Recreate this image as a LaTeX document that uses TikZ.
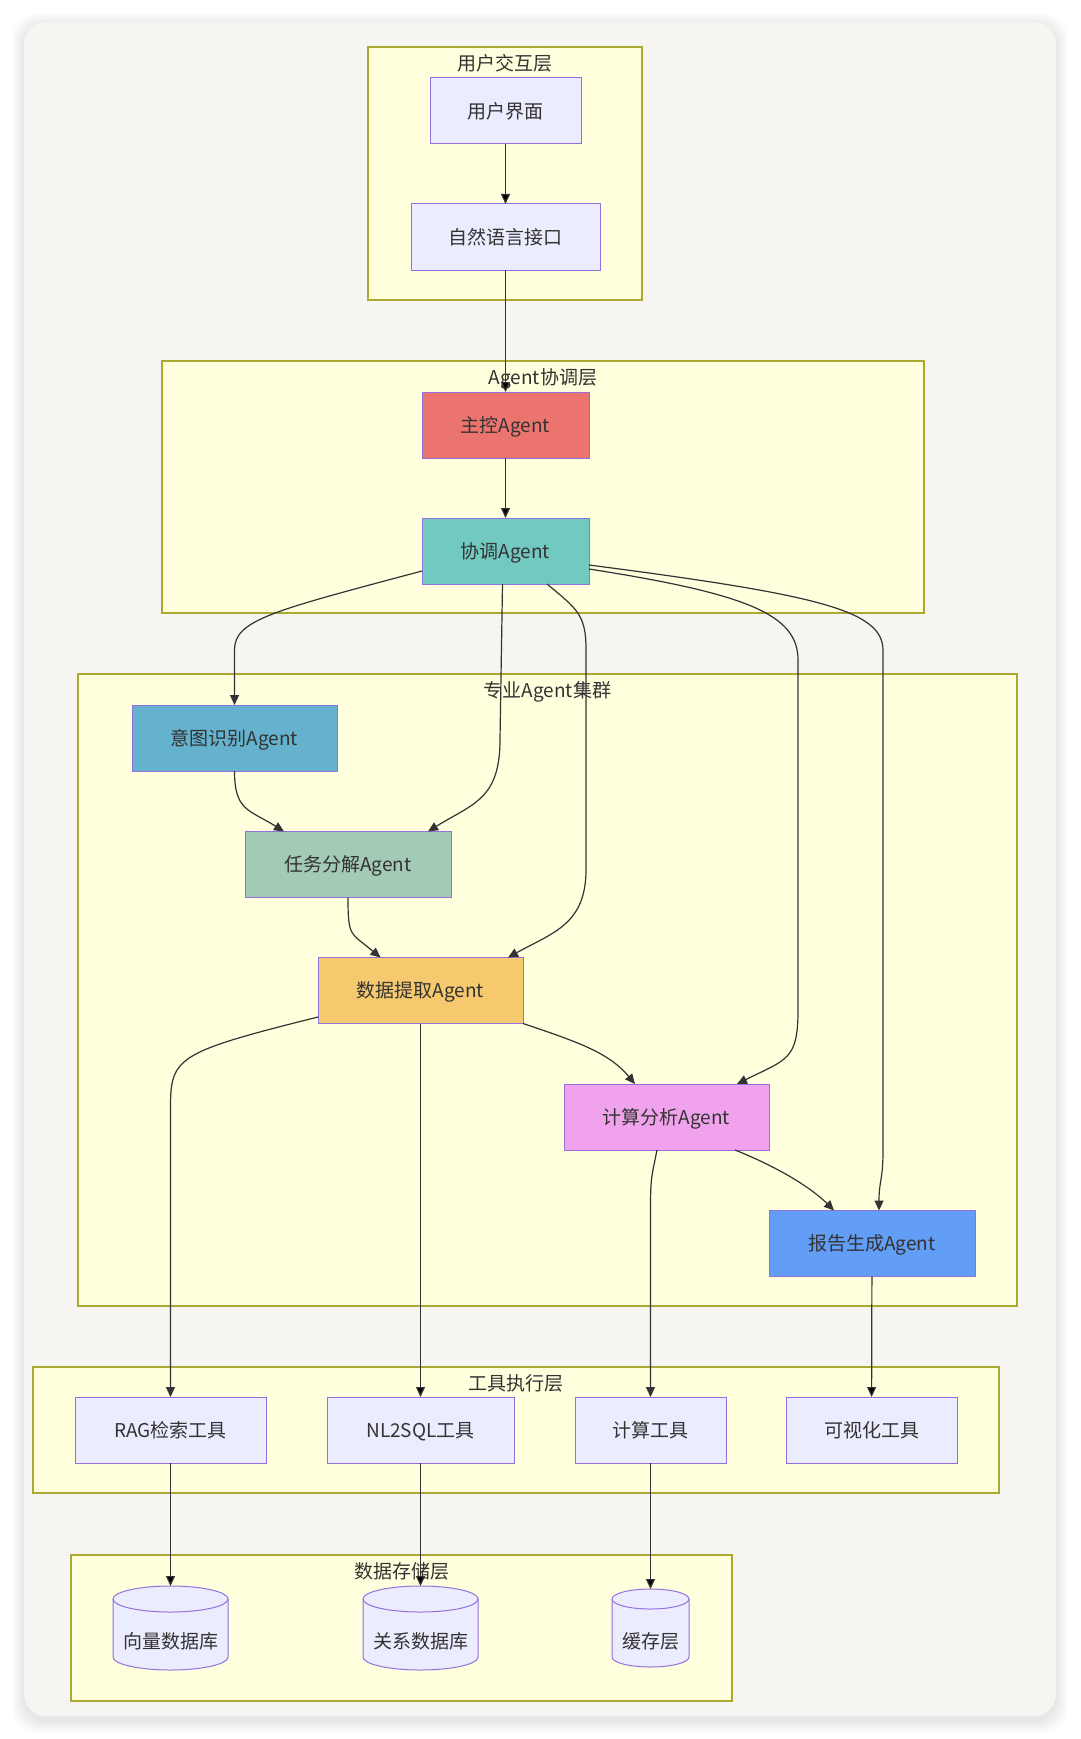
\documentclass[tikz,border=0pt]{standalone}
\usepackage{fontspec}
\setmainfont{Noto Sans CJK SC}
\usepackage{tikz}
\usetikzlibrary{arrows.meta}
\usetikzlibrary{calc}

\definecolor{pagebg}{HTML}{FFFFFF}
\definecolor{cardbg}{HTML}{F6F5F2}
\definecolor{layerfill}{HTML}{FFFFDE}
\definecolor{layerline}{HTML}{AAAA33}
\definecolor{nodefill}{HTML}{ECECFF}
\definecolor{nodeline}{HTML}{9370DB}
\definecolor{textgray}{HTML}{333333}
\definecolor{linegray}{HTML}{333333}
\definecolor{masterred}{HTML}{EC746F}
\definecolor{coordteal}{HTML}{72C9C2}
\definecolor{intentblue}{HTML}{64B2CE}
\definecolor{taskgreen}{HTML}{A2CAB5}
\definecolor{dataorange}{HTML}{F6C96E}
\definecolor{calcpink}{HTML}{F0A3EC}
\definecolor{reportblue}{HTML}{629DF6}

% cylinder outline round a db node: node, half width, end radius
\newcommand{\dbcyl}[3]{%
  \filldraw[draw=nodeline, fill=nodefill, line width=1pt]
    ([yshift=-#3pt]#1.north west) arc[start angle=180, end angle=0, x radius=#2pt, y radius=#3pt]
    -- ([yshift=#3pt]#1.south east) arc[start angle=0, end angle=-180, x radius=#2pt, y radius=#3pt] -- cycle;
  \draw[nodeline, line width=1pt]
    ([yshift=-#3pt]#1.north west) arc[start angle=180, end angle=360, x radius=#2pt, y radius=#3pt];
}

\begin{document}
\begin{tikzpicture}[x=1pt,y=-1pt,>={Triangle[length=10pt,width=9pt]},
    every node/.style={font=\fontsize{19}{23}\selectfont, text=textgray, outer sep=0pt},
    layer/.style={rectangle, draw=layerline, fill=layerfill, line width=1.1pt},
    layer title/.style={text height=17pt, text depth=2.5pt},
    main node/.style={rectangle, draw=nodeline, fill=nodefill, line width=1pt, minimum height=66pt,
                      text height=17pt, text depth=2.5pt},
    db node/.style={rectangle, inner sep=0pt, text height=42pt, text depth=2pt},
    flow/.style={->, draw=linegray, line width=1.2pt}]

  \useasboundingbox (0,0) rectangle (1080,1739);
  \fill[pagebg] (0,0) rectangle (1080,1739);
  % card and its soft shadow
  \foreach \s in {1,...,12}
    \fill[black, opacity=0.008, rounded corners=24pt] (24-\s,25-\s) rectangle (1056+\s,1721+\s);
  \fill[cardbg, rounded corners=22pt] (24,22) rectangle (1056,1716);

  % layers
  \node[layer, minimum width=274pt, minimum height=253pt] (uilayer) at (505,173.5) {};
  \node[layer title] at ([yshift=-16pt]uilayer.north) {用户交互层};
  \node[layer, minimum width=762pt, minimum height=252pt] (agentlayer) at (543,487) {};
  \node[layer title] at ([yshift=-16pt]agentlayer.north) {Agent协调层};
  \node[layer, minimum width=939pt, minimum height=632pt] (speclayer) at (547.5,990) {};
  \node[layer title] at ([yshift=-16pt]speclayer.north) {专业Agent集群};
  \node[layer, minimum width=966pt, minimum height=126pt] (toollayer) at (516,1430) {};
  \node[layer title] at ([yshift=-16pt]toollayer.north) {工具执行层};
  \node[layer, minimum width=661pt, minimum height=146pt] (datalayer) at (401.5,1628) {};
  \node[layer title] at ([yshift=-16pt]datalayer.north) {数据存储层};

  % nodes
  \node[main node, minimum width=151pt] (ui) at (505.5,111) {用户界面};
  \node[main node, minimum width=189pt] (nli) at (505.5,237) {自然语言接口};
  \node[main node, minimum width=167pt, fill=masterred] (master) at (505.5,425) {主控Agent};
  \node[main node, minimum width=167pt, fill=coordteal] (coord) at (505.5,551) {协调Agent};
  \node[main node, minimum width=205pt, fill=intentblue] (intent) at (234.5,738) {意图识别Agent};
  \node[main node, minimum width=206pt, fill=taskgreen] (task) at (348,864.5) {任务分解Agent};
  \node[main node, minimum width=205pt, fill=dataorange] (datax) at (420.5,990.5) {数据提取Agent};
  \node[main node, minimum width=205pt, fill=calcpink] (calc) at (666.5,1117) {计算分析Agent};
  \node[main node, minimum width=206pt, fill=reportblue] (report) at (872,1243.5) {报告生成Agent};
  \node[main node, minimum width=191pt] (rag) at (170.5,1430) {RAG检索工具};
  \node[main node, minimum width=187pt] (nl2sql) at (420.5,1430) {NL2SQL工具};
  \node[main node, minimum width=151pt] (calctool) at (650.5,1430) {计算工具};
  \node[main node, minimum width=171pt] (vistool) at (871.5,1430) {可视化工具};

  % databases
  \node[db node, minimum width=115pt, minimum height=84pt] (vecdb) at (170.5,1628) {};
  \node[db node, minimum width=115pt, minimum height=84pt] (reldb) at (420.5,1628) {};
  \node[db node, minimum width=77pt, minimum height=78pt] (cache) at (650.5,1628) {};
  \dbcyl{vecdb}{57.5}{13}
  \dbcyl{reldb}{57.5}{13}
  \dbcyl{cache}{38.5}{10}
  \node[db node] at (vecdb) {向量数据库};
  \node[db node] at (reldb) {关系数据库};
  \node[db node] at (cache) {缓存层};

  % connectors
  \path[flow]
    (ui) edge (nli)
    (nli) edge (master)
    (master) edge (coord)
    (datax) edge (nl2sql)
    (report) edge (vistool)
    (rag) edge (vecdb)
    (nl2sql) edge (reldb)
    (calctool) edge (cache);

  \draw[flow] ([yshift=-20pt]coord.west) .. controls +(-150,40) and +(0,-30) .. ($(intent.north)+(0,-55)$) -- (intent.north);
  \draw[flow] ([xshift=-3pt]coord.south) -- ($(task.north)+(152,-92)$) .. controls +(0,60) and +(45,-28) .. ([xshift=80pt]task.north);
  \draw[flow] ([xshift=41.5pt]coord.south) .. controls +(30,25) and +(0,-35) .. ($(datax.north)+(165.5,-308)$)
    -- ($(datax.north)+(165.5,-88)$) .. controls +(0,55) and +(45,-25) .. ([xshift=87.5pt]datax.north);
  \draw[flow] ([yshift=-18pt]coord.east) .. controls +(160,25) and +(0,-45) .. ($(calc.north)+(131.5,-424)$)
    -- ($(calc.north)+(131.5,-74)$) .. controls +(0,50) and +(50,-25) .. ([xshift=70.5pt]calc.north);
  \draw[flow] ([yshift=-14pt]coord.east) .. controls +(231,30) and +(0,-40) .. ($(report.north)+(11,-560)$)
    -- ($(report.north)+(11,-60)$) .. controls +(0,30) and +(0,-30) .. ([xshift=7pt]report.north);
  \draw[flow] (intent.south) .. controls +(0,40) and +(-35,-22) .. ([xshift=-64pt]task.north);
  \draw[flow] (task.south) .. controls +(0,40) and +(-30,-25) .. ([xshift=-40pt]datax.north);
  \draw[flow] ([yshift=-26.5pt]datax.west) .. controls +(-140,35) and +(0,-50) .. ($(rag.north)+(0,-290)$) -- (rag.north);
  \draw[flow] (datax.south east) .. controls +(60,20) and +(-25,-30) .. ([xshift=-31.5pt]calc.north);
  \draw[flow] ([xshift=68.5pt]calc.south) .. controls +(45,18) and +(-22,-22) .. ([xshift=-38pt]report.north);
  \draw[flow] ([xshift=-9.5pt]calc.south) .. controls +(-5,25) and +(0,-30) .. ($(calctool.north)+(0,-190)$) -- (calctool.north);
\end{tikzpicture}
\end{document}
